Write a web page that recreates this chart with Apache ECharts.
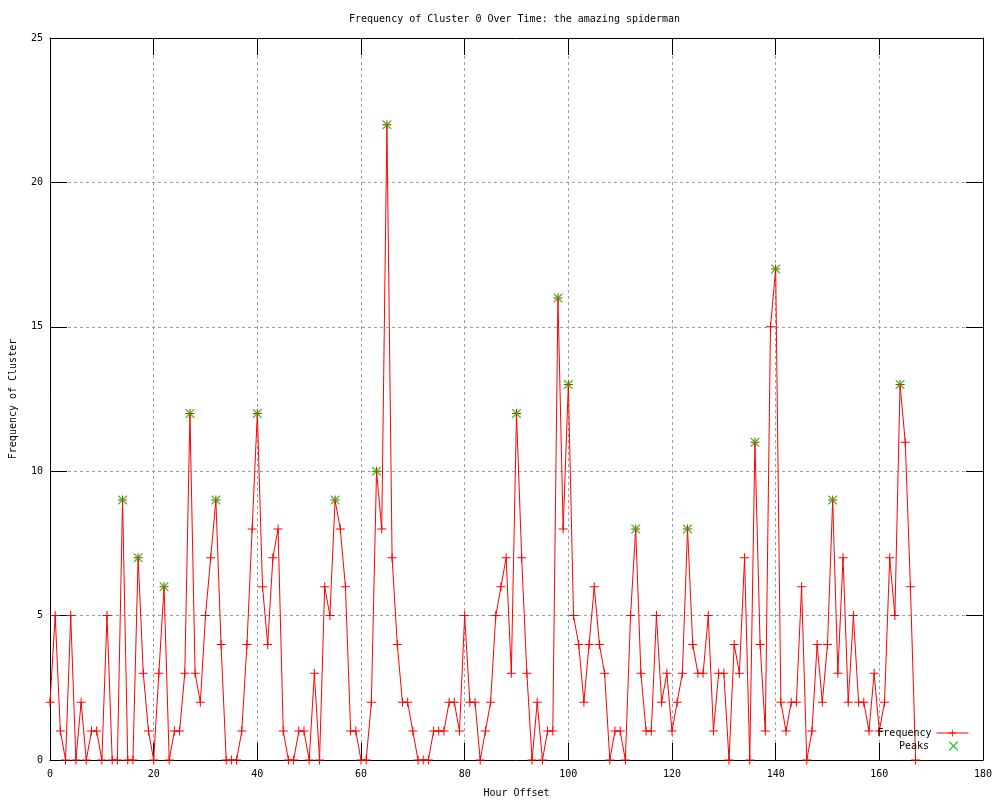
<!DOCTYPE html>
<html><head><meta charset="utf-8">
<script src="https://cdn.jsdelivr.net/npm/echarts@6/dist/echarts.min.js"></script>
<style>html,body{margin:0;padding:0;background:#fff}#c{width:1000px;height:800px}</style>
</head><body><div id="c"></div>
<script>
const titleText = 'Frequency of Cluster 0 Over Time: the amazing spiderman';
const xTicks = [0, 20, 40, 60, 80, 100, 120, 140, 160, 180];
const yTicks = [0, 5, 10, 15, 20, 25];
const hours = [
  0,1,2,3,4,5,6,7,8,9,10,11,12,13,14,15,16,17,18,19,
  20,21,22,23,24,25,26,27,28,29,30,31,32,33,34,35,36,37,38,39,
  40,41,42,43,44,45,46,47,48,49,50,51,52,53,54,55,56,57,58,59,
  60,61,62,63,64,65,66,67,68,69,70,71,72,73,74,75,76,77,78,79,
  80,81,82,83,84,85,86,87,88,89,90,91,92,93,94,95,96,97,98,99,
  100,101,102,103,104,105,106,107,108,109,110,111,112,113,114,115,116,117,118,119,
  120,121,122,123,124,125,126,127,128,129,130,131,132,133,134,135,136,137,138,139,
  140,141,142,143,144,145,146,147,148,149,150,151,152,153,154,155,156,157,158,159,
  160,161,162,163,164,165,166,167
];
const frequency = [
  2,5,1,0,5,0,2,0,1,1,0,5,0,0,9,0,0,7,3,1,
  0,3,6,0,1,1,3,12,3,2,5,7,9,4,0,0,0,1,4,8,
  12,6,4,7,8,1,0,0,1,1,0,3,0,6,5,9,8,6,1,1,
  0,0,2,10,8,22,7,4,2,2,1,0,0,0,1,1,1,2,2,1,
  5,2,2,0,1,2,5,6,7,3,12,7,3,0,2,0,1,1,16,8,
  13,5,4,2,4,6,4,3,0,1,1,0,5,8,3,1,1,5,2,3,
  1,2,3,8,4,3,3,5,1,3,3,0,4,3,7,0,11,4,1,15,
  17,2,1,2,2,6,0,1,4,2,4,9,3,7,2,5,2,2,1,3,
  1,2,7,5,13,11,6,0
];
const peakHours = [14,17,22,27,32,40,55,63,65,90,98,100,113,123,136,140,151,164];
const peakValues = [9,7,6,12,9,12,9,10,22,12,16,13,8,8,11,17,9,13];

const FONT = 'DejaVu Sans Mono';
const plusPath = 'path://M4,0h1v9h-1z M0,4h9v1h-9z';
const crossPath = 'path://M0,0L1,0L9,8L9,9L8,9L0,1Z M8,0L9,0L9,1L1,9L0,9L0,8Z';

const freqData = hours.map((h, i) => [h, frequency[i]]);
const peakData = peakHours.map((h, i) => [h, peakValues[i]]);

const chart = echarts.init(document.getElementById('c'), null, {renderer: 'canvas'});
const tickStyle = {show: true, inside: true, length: 17, lineStyle: {color: '#000', width: 1}};
chart.setOption({
  animation: false,
  backgroundColor: '#fff',
  title: {
    text: titleText, left: 349, top: 14, padding: 0,
    textStyle: {fontFamily: FONT, fontSize: 10, fontWeight: 'normal', color: '#000'}
  },
  grid: {left: 50, right: 17, top: 38, bottom: 40, containLabel: false, outerBoundsMode: 'none'},
  legend: [
    {data: ['Frequency'], orient: 'vertical', align: 'right', right: 31, top: 728, padding: 0,
     itemWidth: 32, itemHeight: 9, lineStyle: {width: 1},
     textStyle: {fontFamily: FONT, fontSize: 10, color: '#000'}},
    {data: ['Peaks'], orient: 'vertical', align: 'right', right: 42, top: 741, padding: 0,
     itemWidth: 9, itemHeight: 9,
     textStyle: {fontFamily: FONT, fontSize: 10, color: '#000', padding: [0, 15, 0, 0]}}
  ],
  xAxis: [
    {type: 'value', min: xTicks[0], max: xTicks[xTicks.length - 1], interval: 20, position: 'bottom',
     name: 'Hour Offset', nameLocation: 'middle', nameGap: 28,
     nameTextStyle: {fontFamily: FONT, fontSize: 10, color: '#000'},
     axisLine: {show: true, onZero: false, lineStyle: {color: '#000', width: 1}},
     axisTick: tickStyle,
     axisLabel: {fontFamily: FONT, fontSize: 10, color: '#000', margin: 9},
     splitLine: {show: true, lineStyle: {color: '#a0a0a0', type: [3, 3], width: 1}}},
    {type: 'value', min: xTicks[0], max: xTicks[xTicks.length - 1], interval: 20, position: 'top',
     axisLine: {show: true, onZero: false, lineStyle: {color: '#000', width: 1}},
     axisTick: tickStyle, axisLabel: {show: false}, splitLine: {show: false}}
  ],
  yAxis: [
    {type: 'value', min: yTicks[0], max: yTicks[yTicks.length - 1], interval: 5, position: 'left',
     name: 'Frequency of Cluster', nameLocation: 'middle', nameGap: 32,
     nameTextStyle: {fontFamily: FONT, fontSize: 10, color: '#000'},
     axisLine: {show: true, onZero: false, lineStyle: {color: '#000', width: 1}},
     axisTick: tickStyle,
     axisLabel: {fontFamily: FONT, fontSize: 10, color: '#000', margin: 7},
     splitLine: {show: true, lineStyle: {color: '#a0a0a0', type: [3, 3], width: 1}}},
    {type: 'value', min: yTicks[0], max: yTicks[yTicks.length - 1], interval: 5, position: 'right',
     axisLine: {show: true, onZero: false, lineStyle: {color: '#000', width: 1}},
     axisTick: tickStyle, axisLabel: {show: false}, splitLine: {show: false}}
  ],
  series: [
    {name: 'Frequency', type: 'line', data: freqData, xAxisIndex: 0, yAxisIndex: 0,
     symbol: plusPath, symbolSize: 9, showAllSymbol: true,
     lineStyle: {color: '#ff0000', width: 1}, itemStyle: {color: '#ff0000'}, z: 3},
    {name: 'Peaks', type: 'scatter', data: peakData, xAxisIndex: 0, yAxisIndex: 0,
     symbol: crossPath, symbolSize: 9,
     itemStyle: {color: '#00c000'}, z: 4}
  ]
});
</script></body></html>
